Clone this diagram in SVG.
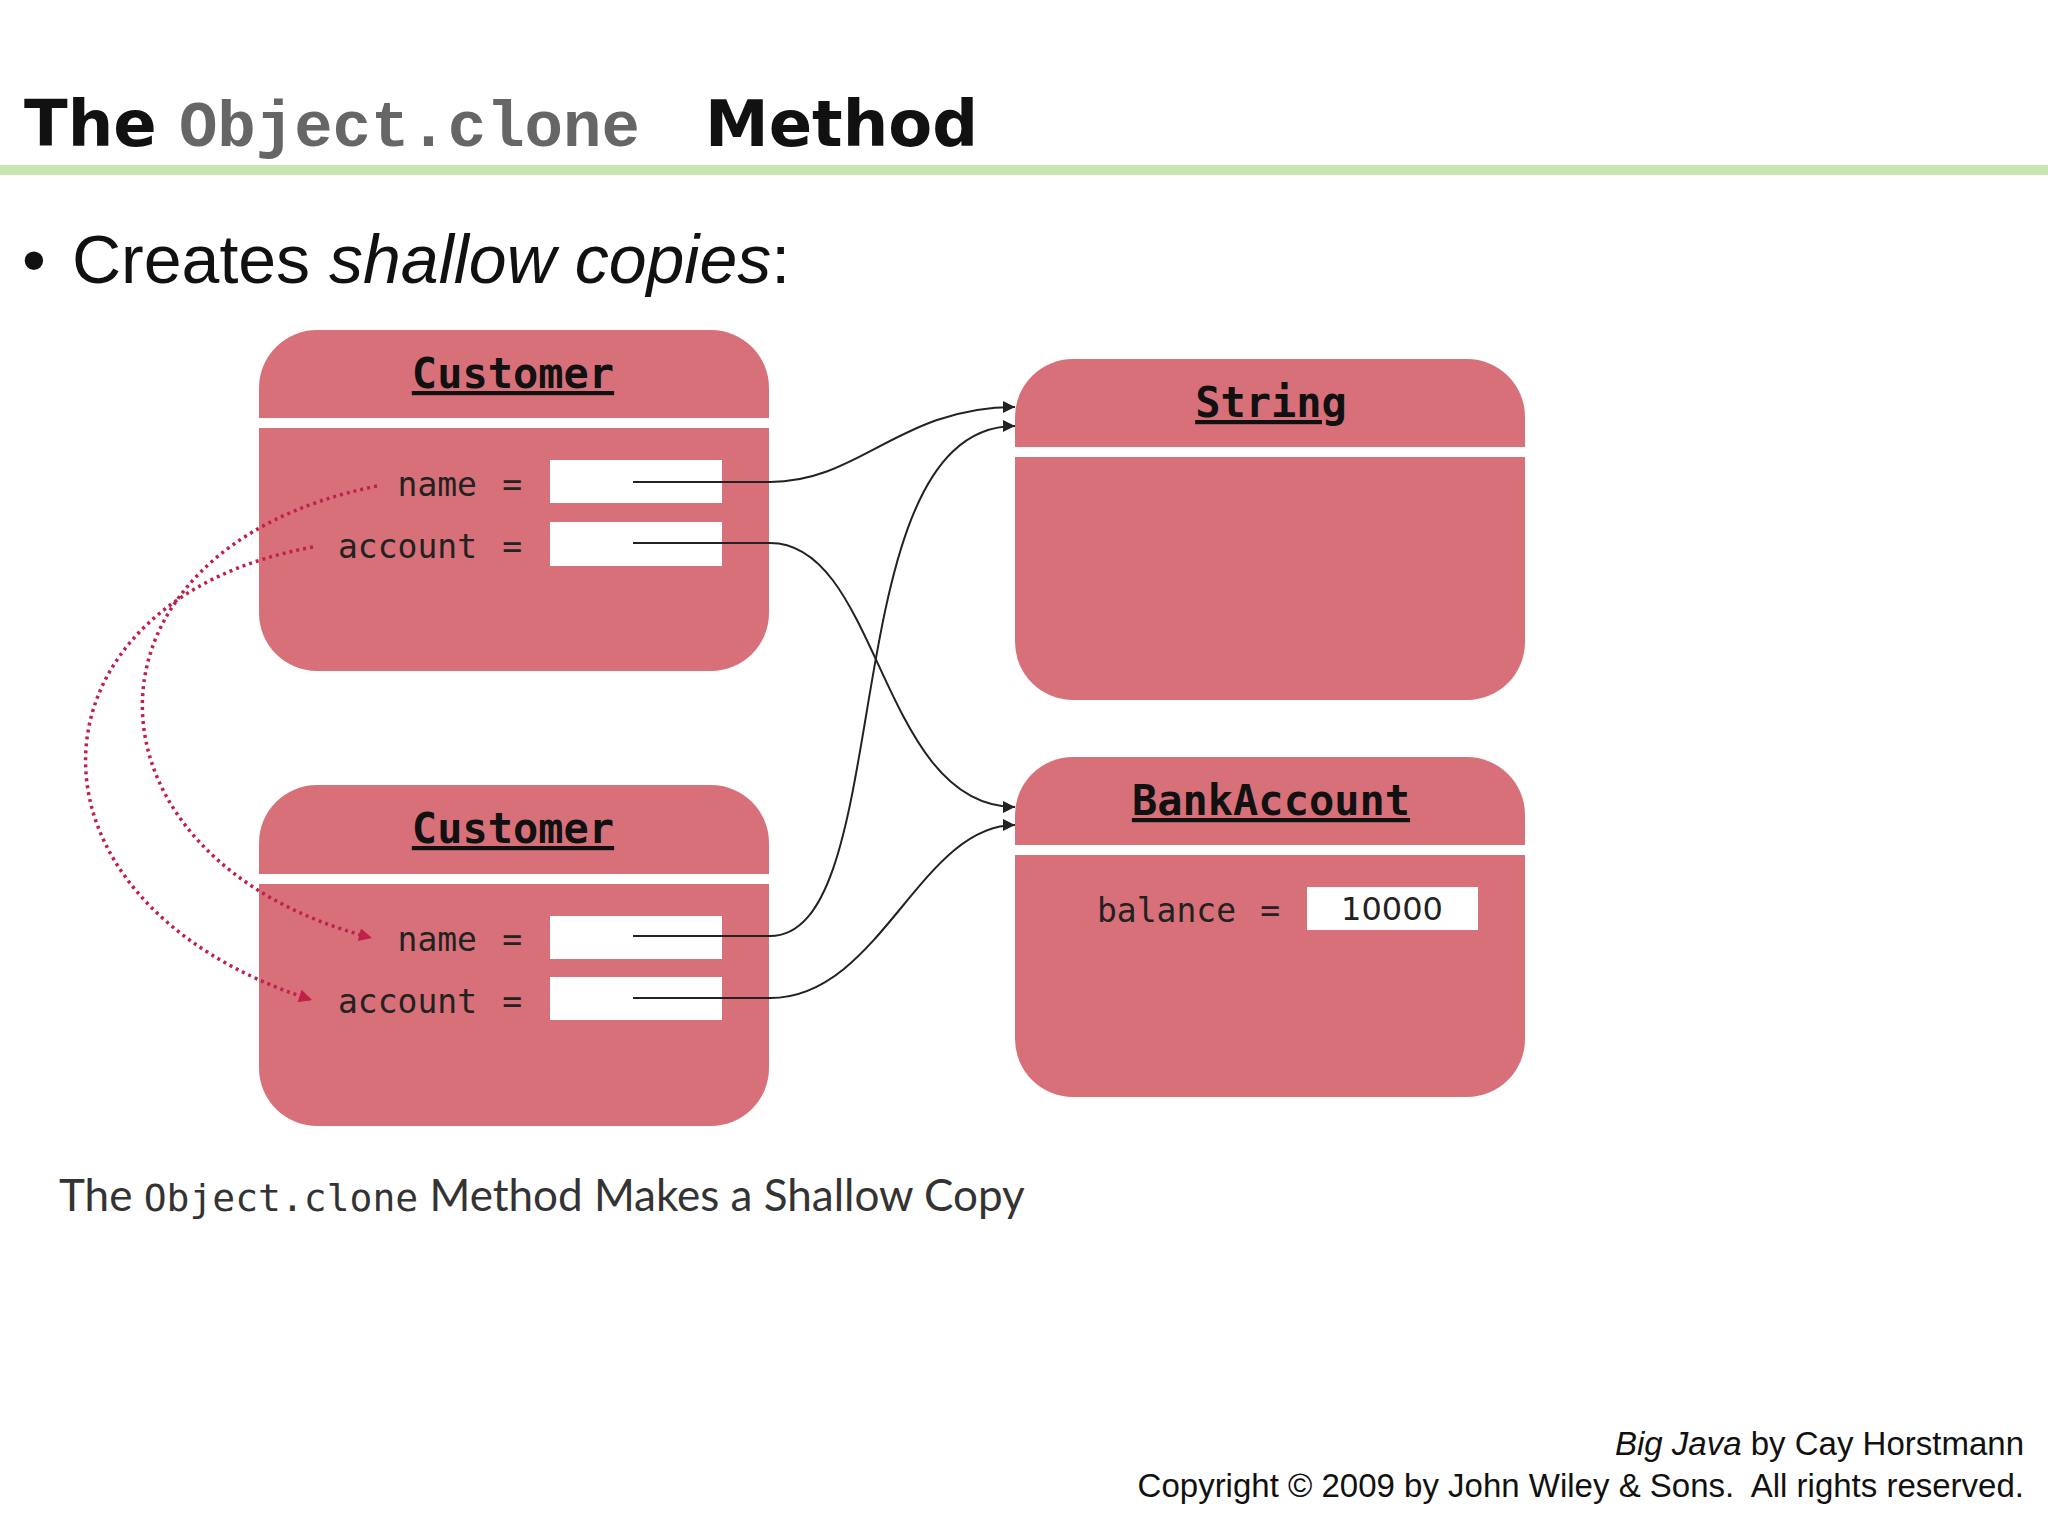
<svg xmlns="http://www.w3.org/2000/svg" width="2048" height="1536" viewBox="0 0 2048 1536">
<style>
.box{fill:#d8707a}
.strip{fill:#fff}
.hdr{font-family:"DejaVu Sans Mono",monospace;font-weight:bold;font-size:42px;fill:#111;text-anchor:middle;text-decoration:underline}
.fld{font-family:"DejaVu Sans Mono",monospace;font-size:33px;fill:#222;text-anchor:end}
.val{fill:#fff}
.ln{fill:none;stroke:#222;stroke-width:2}
.rd{fill:none;stroke:#c0204a;stroke-width:3.5;stroke-dasharray:3 4}
</style>
<defs>
<marker id="ab" viewBox="0 0 10 10" refX="10" refY="5" markerWidth="22" markerHeight="12" markerUnits="userSpaceOnUse" orient="auto"><path d="M0,0 L10,5 L0,10 z" fill="#222"/></marker>
<marker id="ar" viewBox="0 0 10 10" refX="10" refY="5" markerWidth="20" markerHeight="13" markerUnits="userSpaceOnUse" orient="auto"><path d="M0,0 L10,5 L0,10 z" fill="#c0204a"/></marker>
</defs>
<rect width="2048" height="1536" fill="#fff"/>
<text x="24" y="146" font-family="DejaVu Sans, sans-serif" font-weight="bold" font-size="64" fill="#111">The <tspan font-family="Liberation Mono, monospace" fill="#666">Object.clone</tspan><tspan x="705">Method</tspan></text>
<rect x="0" y="165" width="2048" height="10" fill="#c9e6b2"/>
<text x="22" y="283" font-family="Liberation Sans, sans-serif" font-size="68" fill="#111">• <tspan x="72">Creates </tspan><tspan font-style="italic">shallow copies</tspan>:</text>

<g id="customer1">
<rect class="box" x="259" y="330" width="510" height="341" rx="58"/>
<rect class="strip" x="259" y="418" width="510" height="10"/>
<text class="hdr" x="513" y="388">Customer</text>
<text class="fld" x="477" y="496">name</text><text class="fld" x="522" y="496">=</text>
<rect class="val" x="550" y="460" width="172" height="43"/>
<text class="fld" x="477" y="558">account</text><text class="fld" x="522" y="558">=</text>
<rect class="val" x="550" y="522" width="172" height="44"/>
</g>
<g id="customer2">
<rect class="box" x="259" y="785" width="510" height="341" rx="58"/>
<rect class="strip" x="259" y="874" width="510" height="10"/>
<text class="hdr" x="513" y="843">Customer</text>
<text class="fld" x="477" y="951">name</text><text class="fld" x="522" y="951">=</text>
<rect class="val" x="550" y="916" width="172" height="43"/>
<text class="fld" x="477" y="1013">account</text><text class="fld" x="522" y="1013">=</text>
<rect class="val" x="550" y="977" width="172" height="43"/>
</g>
<g id="string">
<rect class="box" x="1015" y="359" width="510" height="341" rx="58"/>
<rect class="strip" x="1015" y="447" width="510" height="10"/>
<text class="hdr" x="1271" y="417">String</text>
</g>
<g id="bankaccount">
<rect class="box" x="1015" y="757" width="510" height="340" rx="58"/>
<rect class="strip" x="1015" y="845" width="510" height="10"/>
<text class="hdr" x="1271" y="815">BankAccount</text>
<text class="fld" x="1236" y="922">balance</text><text class="fld" x="1280" y="922">=</text>
<rect class="val" x="1307" y="887" width="171" height="43"/>
<text x="1392" y="920" font-family="DejaVu Sans, sans-serif" font-size="32" fill="#222" text-anchor="middle">10000</text>
</g>
<g id="connectors">
<path class="ln" d="M633,482 L770,482 C860,482 900,407 1015,407" marker-end="url(#ab)"/>
<path class="ln" d="M633,543 L770,543 C880,543 880,807 1015,807" marker-end="url(#ab)"/>
<path class="ln" d="M633,936 L770,936 C900,936 830,426 1015,426" marker-end="url(#ab)"/>
<path class="ln" d="M633,998 L770,998 C880,998 920,825 1015,825" marker-end="url(#ab)"/>
<path class="rd" d="M377,486 C60,550 70,860 372,938" marker-end="url(#ar)"/>
<path class="rd" d="M313,547 C20,600 0,900 312,1000" marker-end="url(#ar)"/>
</g>
<text x="59" y="1211" font-family="Lato, sans-serif" font-size="44" fill="#333">The <tspan font-family="DejaVu Sans Mono, monospace" font-size="38">Object.clone</tspan> Method Makes a Shallow Copy</text>
<text x="2024" y="1455" font-family="Liberation Sans, sans-serif" font-size="33" fill="#111" text-anchor="end"><tspan font-style="italic">Big Java</tspan> by Cay Horstmann</text>
<text x="2024" y="1497" font-family="Liberation Sans, sans-serif" font-size="33" fill="#111" text-anchor="end" xml:space="preserve">Copyright © 2009 by John Wiley &amp; Sons.  All rights reserved.</text>
</svg>
